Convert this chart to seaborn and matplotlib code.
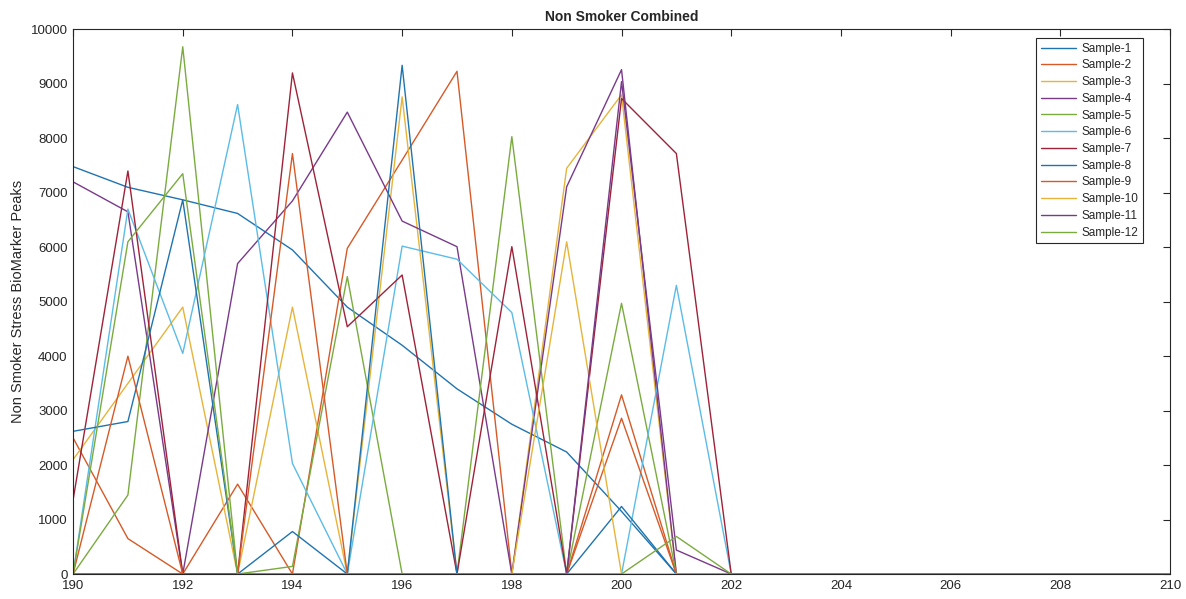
import matplotlib
matplotlib.use("Agg")
import matplotlib.pyplot as plt
import seaborn as sns
import pandas as pd
import numpy as np

x_vals = list(range(190, 211))
samples = [f"Sample-{i}" for i in range(1, 13)]

tail = [0] * 8  # 203..210
s1 = [7480, 7100, 6870, 6620, 5950, 4900, 4200, 3400, 2750, 2240, 1150, 0, 0] + tail
s2 = [2500, 650, 0, 1650, 0, 5980, 7600, 9230, 0, 0, 3290, 0, 0] + tail
s3 = [2100, 3500, 4900, 0, 4900, 0, 8760, 0, 0, 7450, 8800, 0, 0] + tail
s4 = [7200, 6650, 0, 5700, 6850, 8480, 6480, 6010, 0, 7110, 9260, 0, 0] + tail
s5 = [0, 1450, 9680, 0, 140, 5460, 0, 0, 8030, 0, 4970, 0, 0] + tail
s6 = [0, 6700, 4050, 8620, 2030, 0, 6020, 5780, 4800, 0, 0, 5300, 0] + tail
s7 = [1360, 7400, 0, 0, 9200, 4540, 5490, 0, 6010, 0, 8730, 7720, 0] + tail
s8 = [2620, 2800, 6870, 0, 780, 0, 9340, 0, 0, 0, 1240, 0, 0] + tail
s9 = [0, 4000, 0, 0, 7720, 0, 0, 0, 0, 0, 2860, 0, 0] + tail
s10 = [0, 0, 0, 0, 0, 0, 0, 0, 0, 6100, 0, 0, 0] + tail
s11 = [0, 0, 0, 0, 0, 0, 0, 0, 0, 0, 9040, 440, 0] + tail
s12 = [0, 6100, 7350, 0, 0, 0, 0, 0, 0, 0, 0, 690, 0] + tail

series = [s1, s2, s3, s4, s5, s6, s7, s8, s9, s10, s11, s12]

rows = []
for name, vals in zip(samples, series):
    for xv, yv in zip(x_vals, vals):
        rows.append({"x": xv, "y": yv, "Sample": name})
df = pd.DataFrame(rows)

matlab = ["#1f74b0", "#d65a28", "#e6b43a", "#7a3a8a", "#7aab3e", "#5bbce6", "#9e2238"]
palette = [matlab[i % 7] for i in range(12)]

sns.set_theme(style="white")
plt.rcParams['font.family'] = ['Liberation Sans', 'DejaVu Sans']

fig = plt.figure(figsize=(11.86, 5.99), dpi=100)
ax = fig.add_axes([0.0616, 0.0417, 0.9249, 0.9093])

sns.lineplot(data=df, x="x", y="y", hue="Sample", hue_order=samples,
             palette=palette, linewidth=1.0, ax=ax, estimator=None, sort=False)

ax.set_xlim(190, 210)
ax.set_ylim(0, 10000)
ax.set_xticks(range(190, 211, 2))
ax.set_yticks(range(0, 10001, 1000))
ax.tick_params(axis="both", direction="in", length=5, width=0.8, color="#262626",
               labelsize=9.5, top=True, right=True, pad=4)
for sp in ax.spines.values():
    sp.set_visible(True)
    sp.set_color("#262626")
    sp.set_linewidth(0.8)

ax.set_xlabel("")
ax.set_ylabel("Non Smoker Stress BioMarker Peaks", fontsize=10.5)
ax.set_title("Non Smoker Combined", fontsize=10, fontweight="bold", pad=6)

leg = ax.legend(loc="upper right", bbox_to_anchor=(0.9805, 0.995), fontsize=8.5,
                frameon=True, fancybox=False, edgecolor="#262626", framealpha=1,
                handlelength=3.0, labelspacing=0.4, borderpad=0.4, handletextpad=0.4)
leg.get_frame().set_linewidth(0.8)

fig.savefig("out.png", dpi=100)
